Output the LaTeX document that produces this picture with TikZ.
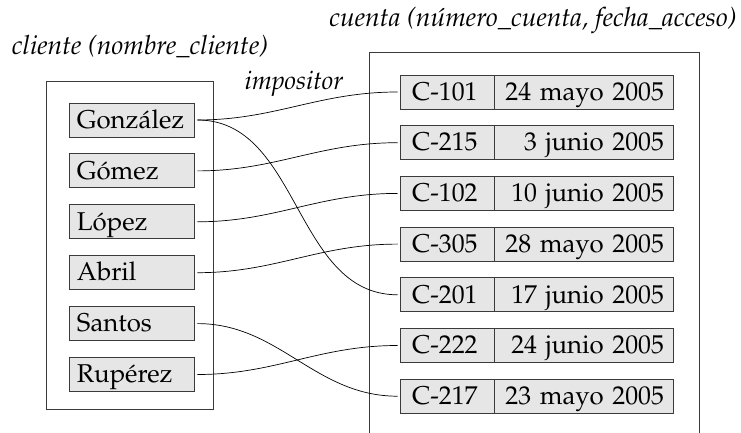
\documentclass[tikz,border=0pt]{standalone}
\usepackage[T1]{fontenc}
\usepackage{mathpazo}
\usepackage{xcolor}
\usetikzlibrary{positioning}
\definecolor{boxfill}{HTML}{E6E6E6}
\definecolor{boxline}{HTML}{3A3A3A}
\newcommand{\picfont}{\fontsize{22}{26}\selectfont}
\tikzset{
	namebox/.style={draw=boxline, fill=boxfill, line width=0.8pt, inner xsep=0.24cm, inner ysep=0pt,
			text width=3.27cm, align=left, minimum height=1.02cm, text height=16.5pt, text depth=2.5pt},
	numbox/.style={namebox, inner xsep=0.36cm, text width=2.1cm},
	datebox/.style={namebox, inner xsep=0.3cm, text width=4.77cm, align=right},
	frame/.style={draw=boxline, line width=0.8pt},
	link/.style={line width=0.6pt, shorten <=0.09cm, shorten >=0.06cm},
	title/.style={font=\fontsize{22.6}{27}\selectfont\itshape, anchor=base}
}

\begin{document}
\begin{tikzpicture}[x=0.03cm, y=-0.03cm, font=\picfont]
        \useasboundingbox (0,0) rectangle (741,433);
        \node[title] (t_cliente) at (140, 55) {cliente (nombre\_cliente)};
        \node[title, font=\picfont\itshape] (t_impositor) at (294, 90) {impositor};
        \node[title] (t_cuenta) at (533, 27) {cuenta (n\'umero\_cuenta, fecha\_acceso)};
        \draw[frame] (46, 81) rectangle (213, 409);
        \draw[frame] (369.5, 433) -- (369.5, 52) -- (699, 52) -- (699, 433);
        \node[namebox] (gonzalez) at (131.5, 120) {Gonz\'alez};
        \node[namebox] (gomez) at (131.5, 170.9) {G\'omez};
        \node[namebox] (lopez) at (131.5, 221.8) {L\'opez};
        \node[namebox] (abril) at (131.5, 272.7) {Abril};
        \node[namebox] (santos) at (131.5, 323.6) {Santos};
        \node[namebox] (ruperez) at (131.5, 374.5) {Rup\'erez};
        \node[numbox] (c_101) at (447, 92) {C-101};
        \node[numbox] (c_215) at (447, 142.7) {C-215};
        \node[numbox] (c_102) at (447, 193.4) {C-102};
        \node[numbox] (c_305) at (447, 244.1) {C-305};
        \node[numbox] (c_201) at (447, 294.8) {C-201};
        \node[numbox] (c_222) at (447, 345.5) {C-222};
        \node[numbox] (c_217) at (447, 396.2) {C-217};
        \node[datebox, right=0pt of c_101] (d_101) {24 mayo 2005};
        \node[datebox, right=0pt of c_215] (d_215) {3 junio 2005};
        \node[datebox, right=0pt of c_102] (d_102) {10 junio 2005};
        \node[datebox, right=0pt of c_305] (d_305) {28 mayo 2005};
        \node[datebox, right=0pt of c_201] (d_201) {17 junio 2005};
        \node[datebox, right=0pt of c_222] (d_222) {24 junio 2005};
        \node[datebox, right=0pt of c_217] (d_217) {23 mayo 2005};
        \draw[link] (gonzalez.east) to[out=0, in=180] (c_101.west);
        \draw[link] (gonzalez.east) to[out=0, in=180] (c_201.west);
        \draw[link] (gomez.east) to[out=0, in=180] (c_215.west);
        \draw[link] (lopez.east) to[out=0, in=180] (c_102.west);
        \draw[link] (abril.east) to[out=0, in=180] (c_305.west);
        \draw[link] (santos.east) to[out=0, in=180] (c_217.west);
        \draw[link] (ruperez.east) to[out=0, in=180] (c_222.west);
    \end{tikzpicture}
\end{document}
